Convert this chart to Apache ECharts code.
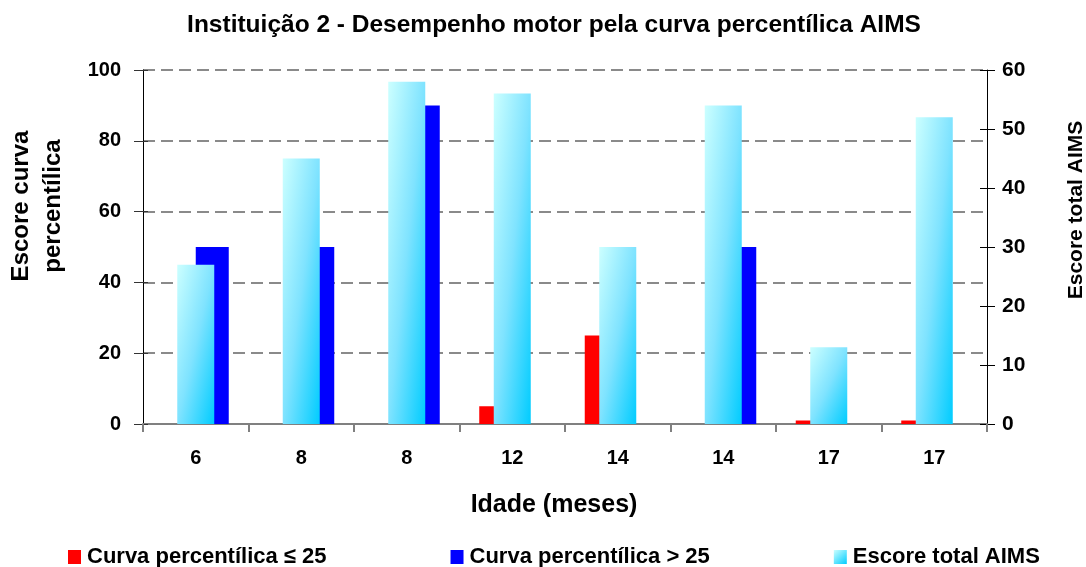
<!DOCTYPE html>
<html>
<head>
<meta charset="utf-8">
<script src="https://cdn.jsdelivr.net/npm/echarts@6/dist/echarts.min.js"></script>
<style>
html,body{margin:0;padding:0;background:#fff;}
#chart{width:1086px;height:567px;}
</style>
</head>
<body>
<div id="chart"></div>
<script>
const categories = ['6', '8', '8', '12', '14', '14', '17', '17'];
const curvaAte25 = [null, null, null, 5, 25, null, 1, 1];
const curvaAcima25 = [50, 50, 90, null, null, 50, null, null];
const escoreAIMS = [27, 45, 58, 56, 30, 54, 13, 52];
const leftTicks = [0, 20, 40, 60, 80, 100];
const rightTicks = [0, 10, 20, 30, 40, 50, 60];

const FONT = '"Liberation Sans", Arial, sans-serif';
const chart = echarts.init(document.getElementById('chart'), null, {renderer: 'canvas'});

const GRID = {left: 143, right: 99, top: 70, bottom: 143};
const plotH = 567 - GRID.top - GRID.bottom;
const cyanW = 37;

function cyanGradient(value) {
  const h = Math.max(1, value / rightTicks[rightTicks.length - 1] * plotH);
  const w = cyanW;
  const d = h * h + w * w;
  return new echarts.graphic.LinearGradient(0, 0, 2 * h * h / d, 2 * w * w / d, [
    {offset: 0, color: '#ccffff'},
    {offset: 0.5, color: '#7fe3ff'},
    {offset: 1, color: '#00ccff'}
  ]);
}

const tickAxisBase = {
  type: 'value', axisLine: {show: false}, axisLabel: {show: false}, splitLine: {show: false}
};

const option = {
  animation: false,
  backgroundColor: '#ffffff',
  textStyle: {fontFamily: FONT},
  title: [{
    text: 'Instituição 2 - Desempenho motor pela curva percentílica AIMS',
    left: 549, top: 8, textAlign: 'center',
    textStyle: {fontFamily: FONT, fontWeight: 'bold', fontSize: 24.5, color: '#000'}
  }, {
    text: 'Idade (meses)',
    left: 549, top: 488, textAlign: 'center',
    textStyle: {fontFamily: FONT, fontWeight: 'bold', fontSize: 25, color: '#000'}
  }],
  graphic: [{
    type: 'text', x: 37, y: 206, rotation: Math.PI / 2,
    style: {text: 'Escore curva\npercentílica', fill: '#000', font: 'bold 24px ' + FONT,
            textAlign: 'center', textVerticalAlign: 'middle', lineHeight: 32}
  }, {
    type: 'text', x: 1076, y: 210, rotation: Math.PI / 2,
    style: {text: 'Escore total AIMS', fill: '#000', font: 'bold 21px ' + FONT,
            textAlign: 'center', textVerticalAlign: 'middle'}
  }],
  legend: {
    left: 63, top: 541,
    itemWidth: 13, itemHeight: 14, itemGap: 124,
    icon: 'rect',
    textStyle: {fontFamily: FONT, fontWeight: 'bold', fontSize: 22, color: '#000', padding: [0, 0, 0, 1]},
    data: [
      {name: 'Curva percentílica ≤ 25', itemStyle: {color: '#ff0000'}},
      {name: 'Curva percentílica > 25', itemStyle: {color: '#0000ff'}},
      {name: 'Escore total AIMS', itemStyle: {color: new echarts.graphic.LinearGradient(0, 0, 1, 1, [
        {offset: 0, color: '#ccffff'}, {offset: 1, color: '#00ccff'}])}}
    ]
  },
  grid: GRID,
  xAxis: [{
    type: 'category', data: categories, boundaryGap: true,
    axisLine: {lineStyle: {color: '#808080', width: 2}},
    axisTick: {show: true, length: 8, lineStyle: {color: '#808080', width: 2}},
    axisLabel: {margin: 24, fontFamily: FONT, fontWeight: 'bold', fontSize: 20, color: '#000'},
    splitLine: {show: false}
  }, {
    type: 'category', data: categories, show: false, boundaryGap: true
  }],
  yAxis: [{
    type: 'value', min: 0, max: 100, interval: 20, position: 'left',
    axisLine: {show: true, lineStyle: {color: '#000', width: 1}},
    axisTick: {show: true, length: 9, lineStyle: {color: '#333', width: 1}},
    axisLabel: {margin: 22, fontFamily: FONT, fontWeight: 'bold', fontSize: 20, color: '#000',
      formatter: v => leftTicks.includes(v) ? String(v) : ''},
    splitLine: {show: true, lineStyle: {color: '#8a8a8a', width: 2, type: [12, 6]}}
  }, {
    type: 'value', min: 0, max: 60, interval: 10, position: 'right',
    axisLine: {show: true, lineStyle: {color: '#000', width: 1}},
    axisTick: {show: true, length: 8, lineStyle: {color: '#000', width: 1}},
    axisLabel: {margin: 15, fontFamily: FONT, fontWeight: 'bold', fontSize: 21, color: '#000',
      formatter: v => rightTicks.includes(v) ? String(v) : ''},
    splitLine: {show: false}
  }, Object.assign({}, tickAxisBase, {
    min: 0, max: 100, interval: 20, position: 'left',
    axisTick: {show: true, inside: true, length: 5, lineStyle: {color: '#333', width: 1}}
  }), Object.assign({}, tickAxisBase, {
    min: 0, max: 60, interval: 10, position: 'right',
    axisTick: {show: true, inside: true, length: 7, lineStyle: {color: '#000', width: 1}}
  })],
  series: [{
    name: 'Curva percentílica ≤ 25', type: 'bar', xAxisIndex: 0, yAxisIndex: 0,
    data: curvaAte25, barWidth: 33, barGap: '0%', z: 2,
    itemStyle: {color: '#ff0000'}
  }, {
    name: 'Curva percentílica > 25', type: 'bar', xAxisIndex: 0, yAxisIndex: 0,
    data: curvaAcima25, barWidth: 33, barGap: '0%', z: 2,
    itemStyle: {color: '#0000ff'}
  }, {
    name: 'Escore total AIMS', type: 'bar', xAxisIndex: 1, yAxisIndex: 1,
    data: escoreAIMS, barWidth: cyanW, z: 3,
    itemStyle: {color: p => cyanGradient(p.value)}
  }]
};
chart.setOption(option);
</script>
</body>
</html>
